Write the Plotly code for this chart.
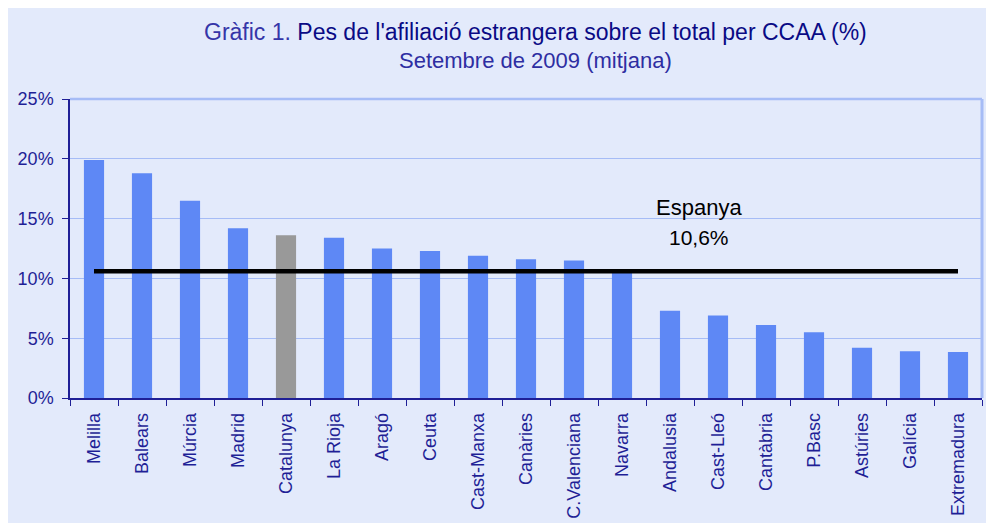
import plotly.graph_objects as go

categories = ["Melilla", "Balears", "Múrcia", "Madrid", "Catalunya", "La Rioja", "Aragó",
              "Ceuta", "Cast-Manxa", "Canàries", "C.Valenciana", "Navarra", "Andalusia",
              "Cast-Lleó", "Cantàbria", "P.Basc", "Astúries", "Galícia", "Extremadura"]
values = [19.9, 18.8, 16.5, 14.2, 13.6, 13.4, 12.5, 12.3, 11.9, 11.6, 11.5, 10.5, 7.3,
          6.9, 6.1, 5.5, 4.2, 3.9, 3.85]
espanya = 10.6
highlight = "Catalunya"
y_ticks = [0, 5, 10, 15, 20, 25]
y_tick_labels = ["0%", "5%", "10%", "15%", "20%", "25%"]

BG = "#E3EAFB"
BAR = "#5E88F5"
GREY = "#999999"
NAVY = "#1F1F96"
GRID = "#A6BCF6"
FONT = "Liberation Sans, Arial, sans-serif"

colors = [GREY if c == highlight else BAR for c in categories]

fig = go.Figure()
fig.add_trace(go.Bar(x=categories, y=values, marker=dict(color=colors, line=dict(width=0)),
                     hoverinfo="x+y"))
fig.add_trace(go.Scatter(x=[categories[0], categories[-1]], y=[espanya, espanya], mode="lines",
                         line=dict(color="black", width=4.5), hoverinfo="skip"))

shapes = [
    dict(type="line", xref="paper", yref="paper", x0=0, x1=1, y0=1, y1=1,
         line=dict(color=GRID, width=2.5), layer="below"),
    dict(type="line", xref="paper", yref="paper", x0=1, x1=1, y0=0, y1=1,
         line=dict(color=GRID, width=3), layer="below"),
]

label = f"{espanya:.1f}".replace(".", ",") + "%"
annotations = [
    dict(xref="paper", yref="paper", x=0.51, y=1.224, xanchor="center", yanchor="middle",
         showarrow=False,
         text="<span style='color:#3535A8'>Gràfic 1.</span> Pes de l'afiliació estrangera sobre el total per CCAA (%)",
         font=dict(family=FONT, size=23, color="#0A0A85")),
    dict(xref="paper", yref="paper", x=0.51, y=1.130, xanchor="center", yanchor="middle",
         showarrow=False, text="Setembre de 2009 (mitjana)",
         font=dict(family=FONT, size=22, color="#2E2EA2")),
    dict(xref="paper", yref="paper", x=0.690, y=0.636, xanchor="center", yanchor="middle",
         showarrow=False, text="Espanya", font=dict(family=FONT, size=22, color="black")),
    dict(xref="paper", yref="paper", x=0.690, y=0.538, xanchor="center", yanchor="middle",
         showarrow=False, text=label, font=dict(family=FONT, size=21, color="black")),
]

fig.update_layout(
    width=986, height=515,
    margin=dict(l=62, r=12, t=91, b=125, autoexpand=False),
    paper_bgcolor=BG,
    plot_bgcolor=BG,
    showlegend=False,
    bargap=0.58,
    shapes=shapes,
    annotations=annotations,
    font=dict(family=FONT, color=NAVY),
    xaxis=dict(
        type="category", tickangle=-90, tickson="boundaries", ticks="outside", ticklen=6,
        tickcolor=NAVY, showline=True, linecolor=NAVY, linewidth=1.5, showgrid=False,
        tickfont=dict(family=FONT, size=18, color=NAVY), ticklabelstandoff=6, automargin=False,
    ),
    yaxis=dict(
        range=[0, 25], tickvals=y_ticks, ticktext=y_tick_labels, ticks="outside", ticklen=6,
        tickcolor=NAVY, showline=True, linecolor=NAVY, linewidth=1.5, showgrid=True,
        gridcolor=GRID, gridwidth=1, zeroline=False,
        tickfont=dict(family=FONT, size=18, color=NAVY), ticklabelstandoff=5, automargin=False,
    ),
)

fig.write_html("out.html")
